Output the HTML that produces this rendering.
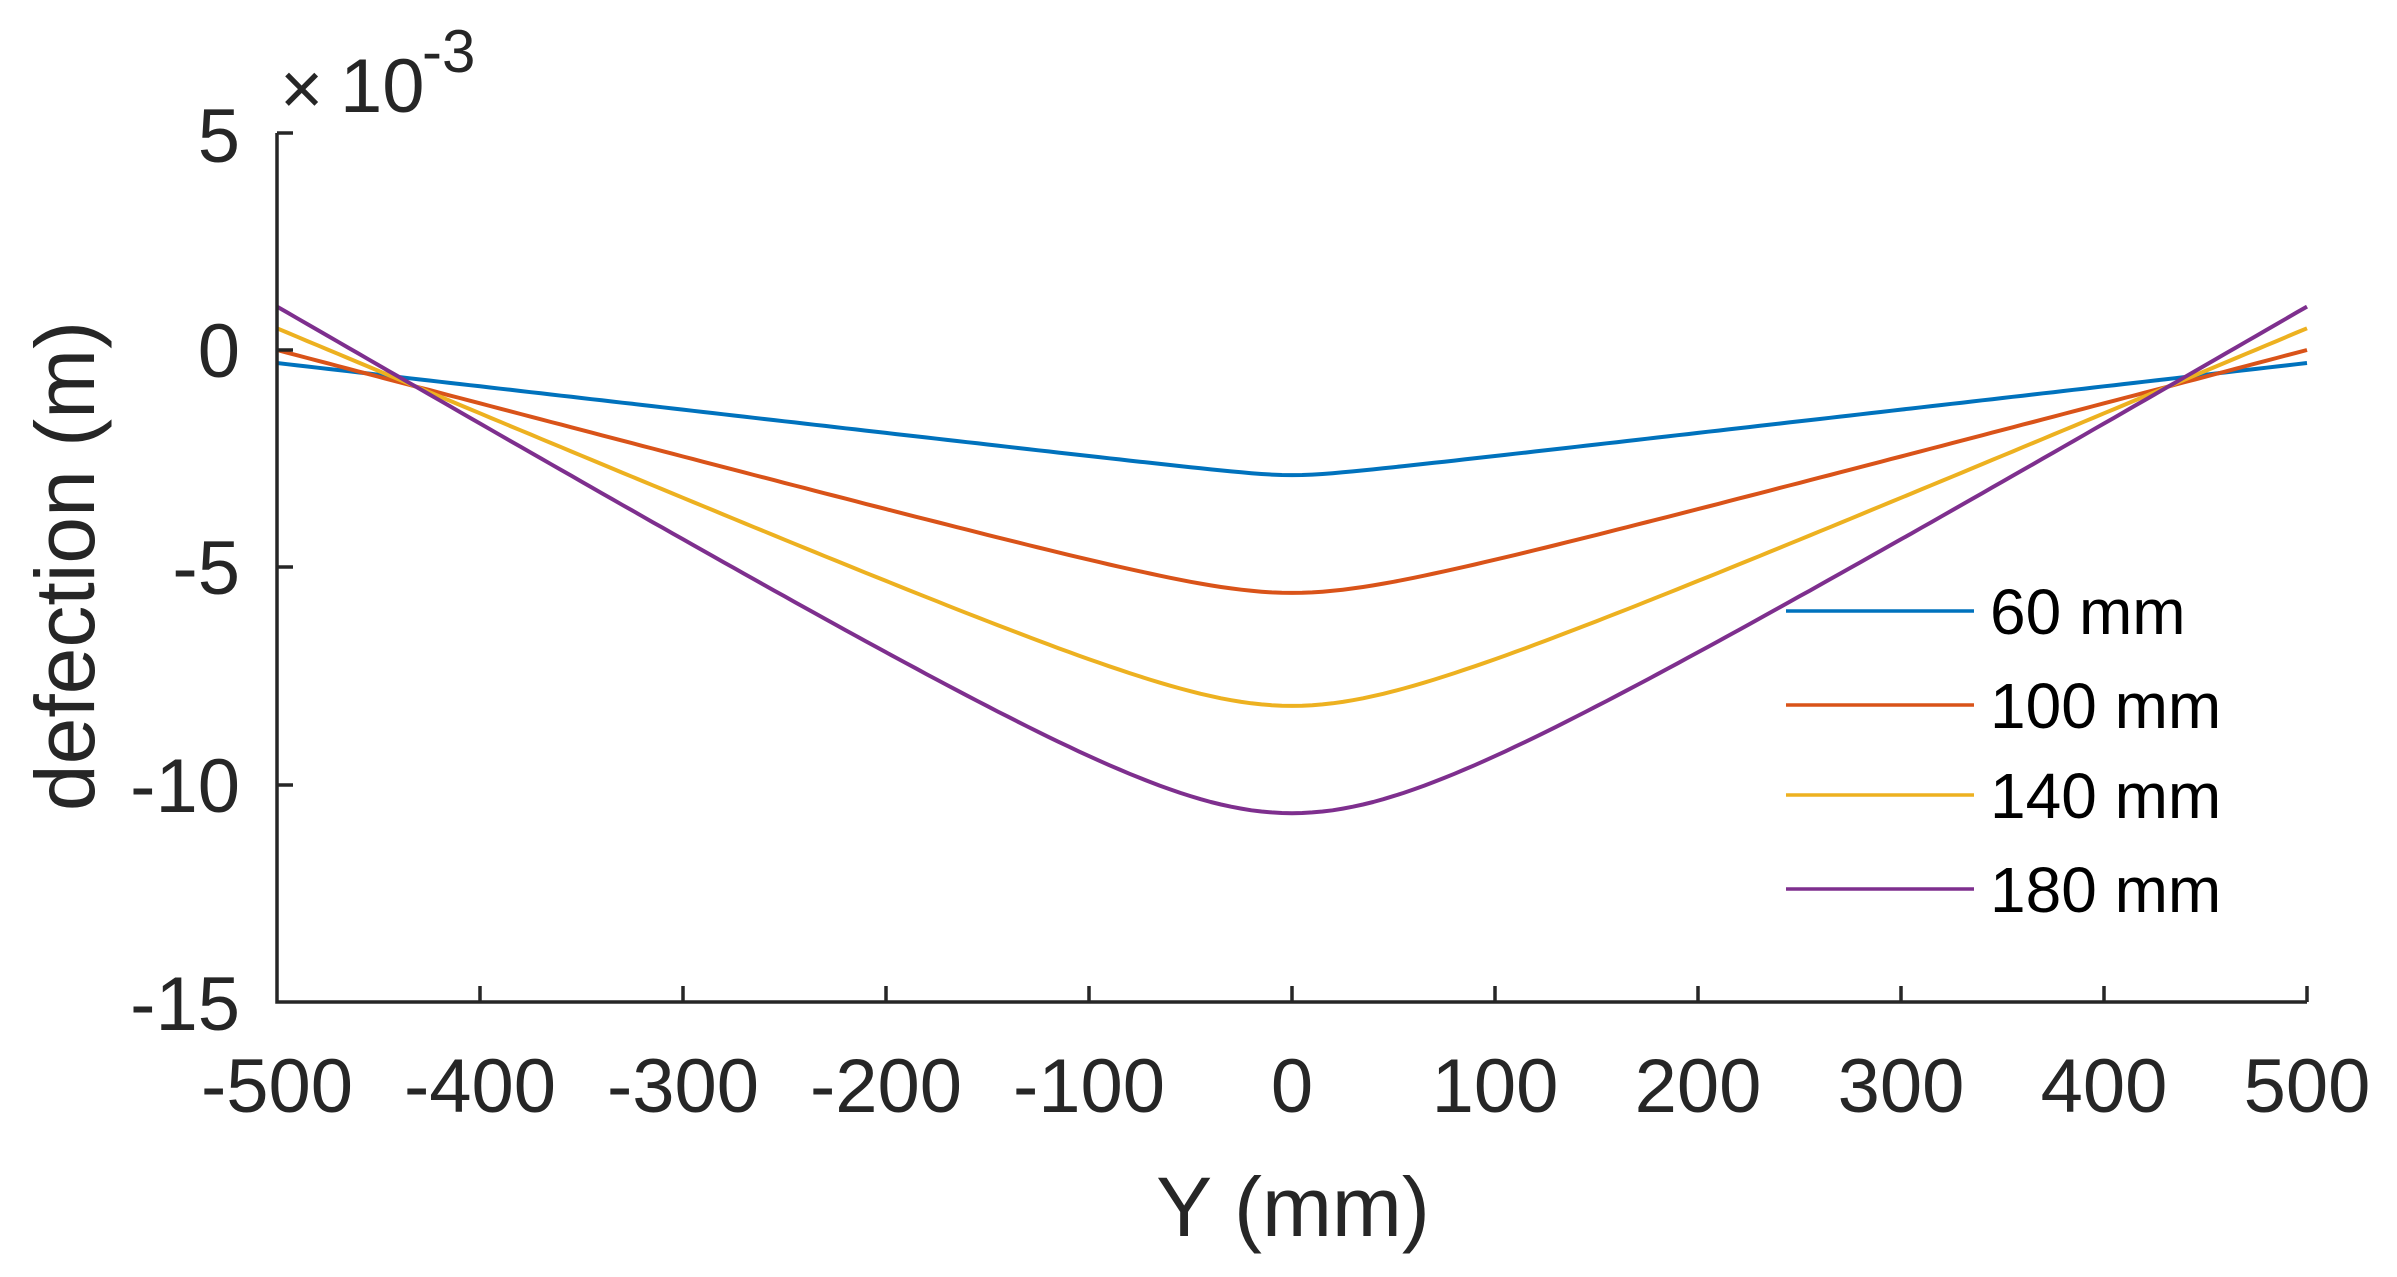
<!DOCTYPE html>
<html><head><meta charset="utf-8"><style>
html,body{margin:0;padding:0;background:#fff;}
svg{display:block;}
text{font-family:"Liberation Sans",Arial,sans-serif;fill:#262626;}
</style></head><body>
<svg id="s" width="2397" height="1277" viewBox="0 0 2397 1277" xmlns="http://www.w3.org/2000/svg">
<rect width="2397" height="1277" fill="#fff"/>
<g id="curves" fill="none" stroke-width="4" stroke-linejoin="round"></g>
<g stroke="#262626" stroke-width="3.5" fill="none">
<polyline points="277,133 277,1002 2307,1002"/>
<line x1="277" y1="133" x2="293" y2="133"/>
<line x1="277" y1="350" x2="293" y2="350"/>
<line x1="277" y1="567" x2="293" y2="567"/>
<line x1="277" y1="785" x2="293" y2="785"/>
<line x1="480" y1="1002" x2="480" y2="986"/>
<line x1="683" y1="1002" x2="683" y2="986"/>
<line x1="886" y1="1002" x2="886" y2="986"/>
<line x1="1089" y1="1002" x2="1089" y2="986"/>
<line x1="1292" y1="1002" x2="1292" y2="986"/>
<line x1="1495" y1="1002" x2="1495" y2="986"/>
<line x1="1698" y1="1002" x2="1698" y2="986"/>
<line x1="1901" y1="1002" x2="1901" y2="986"/>
<line x1="2104" y1="1002" x2="2104" y2="986"/>
<line x1="2307" y1="1002" x2="2307" y2="986"/>
</g>
<g font-size="76" text-anchor="end">
<text x="240" y="162">5</text>
<text x="240" y="377">0</text>
<text x="240" y="594">-5</text>
<text x="240" y="812">-10</text>
<text x="240" y="1030">-15</text>
</g>
<g font-size="76" text-anchor="middle">
<text x="277" y="1112">-500</text>
<text x="480" y="1112">-400</text>
<text x="683" y="1112">-300</text>
<text x="886" y="1112">-200</text>
<text x="1089" y="1112">-100</text>
<text x="1292" y="1112">0</text>
<text x="1495" y="1112">100</text>
<text x="1698" y="1112">200</text>
<text x="1901" y="1112">300</text>
<text x="2104" y="1112">400</text>
<text x="2307" y="1112">500</text>
</g>
<text x="280" y="114" font-size="74">×</text>
<text x="340" y="112" font-size="76">10</text>
<text x="422" y="72" font-size="60">-3</text>
<text x="1293" y="1236" font-size="84" text-anchor="middle">Y (mm)</text>
<text transform="translate(94,566) rotate(-90)" font-size="84" text-anchor="middle">defection (m)</text>
<g stroke-width="3.5">
<line x1="1786" y1="611" x2="1974" y2="611" stroke="#0072BD"/>
<line x1="1786" y1="705" x2="1974" y2="705" stroke="#D95319"/>
<line x1="1786" y1="795" x2="1974" y2="795" stroke="#EDB120"/>
<line x1="1786" y1="889" x2="1974" y2="889" stroke="#7E2F8E"/>
</g>
<g font-size="64">
<text x="1990" y="634" style="fill:#000">60 mm</text>
<text x="1990" y="728" style="fill:#000">100 mm</text>
<text x="1990" y="818" style="fill:#000">140 mm</text>
<text x="1990" y="912" style="fill:#000">180 mm</text>
</g>
</svg>
<script>
(function(){
var g=document.getElementById('curves');
var series=[["#0072BD",-2.88,-0.3,20],["#D95319",-5.59,0.0,50],["#EDB120",-8.19,0.5,65],["#7E2F8E",-10.66,1.0,80]];
function X(x){return 277+(x+500)*2030/1000;}
function Y(v){return 350-v*43.45;}
series.forEach(function(s){
 var c=s[3],k=(s[2]-s[1])/(Math.sqrt(250000+c*c)-c),pts=[];
 for(var x=-500;x<=500;x+=5){var v=s[1]+k*(Math.sqrt(x*x+c*c)-c);pts.push(X(x).toFixed(1)+","+Y(v).toFixed(1));}
 var p=document.createElementNS("http://www.w3.org/2000/svg","polyline");
 p.setAttribute("points",pts.join(" "));p.setAttribute("stroke",s[0]);g.appendChild(p);
});
})();
</script>
</body></html>
